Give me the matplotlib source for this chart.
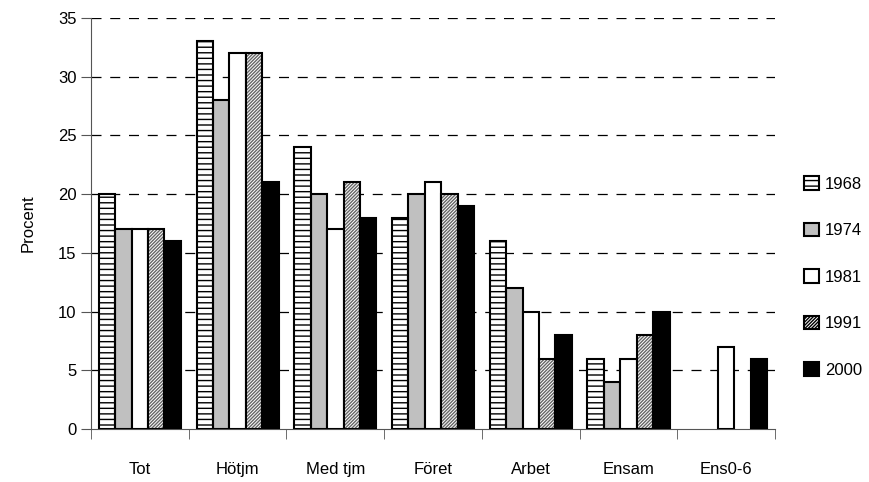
import matplotlib
matplotlib.use("Agg")
import matplotlib.pyplot as plt
import numpy as np

plt.rcParams['font.family'] = ['Liberation Sans', 'DejaVu Sans']
plt.rcParams['hatch.linewidth'] = 1.0

kategorier = ["Tot", "Hötjm", "Med tjm", "Föret", "Arbet", "Ensam", "Ens0-6"]
ar = ["1968", "1974", "1981", "1991", "2000"]
v1968 = [20, 33, 24, 18, 16, 6, np.nan]
v1974 = [17, 28, 20, 20, 12, 4, np.nan]
v1981 = [17, 32, 17, 21, 10, 6, 7]
v1991 = [17, 32, 21, 20, 6, 8, np.nan]
v2000 = [16, 21, 18, 19, 8, 10, 6]
serier = [v1968, v1974, v1981, v1991, v2000]

farger = ["white", "#c0c0c0", "white", "white", "black"]
monster = ["---", None, None, "//////////", None]
monsterfarg = ["black", None, None, "#666666", None]

fig = plt.figure(figsize=(8.69, 4.82), dpi=100)
ax = fig.add_axes([0.1047, 0.110, 0.7873, 0.8527])

x = np.arange(len(kategorier))
bredd = 0.168
for i, (s, namn) in enumerate(zip(serier, ar)):
    pos = x + (i - 2) * bredd
    if monster[i]:
        # mönster i egen färg, svart kant ovanpå
        ax.bar(pos, s, width=bredd, color=farger[i], edgecolor=monsterfarg[i],
               linewidth=0, hatch=monster[i], zorder=3)
        ax.bar(pos, s, width=bredd, fill=False, edgecolor="black",
               linewidth=1.5, zorder=4)
        ax.bar([np.nan], [np.nan], color=farger[i], edgecolor="black",
               linewidth=1.5, hatch=monster[i], label=namn)
    else:
        ax.bar(pos, s, width=bredd, color=farger[i], edgecolor="black",
               linewidth=1.5, label=namn, zorder=3)

ax.set_xlim(-0.5, len(kategorier) - 0.5)
ax.set_ylim(0, 35)
ax.set_yticks(range(0, 36, 5))
ax.set_xticks(x)
ax.set_xticklabels(kategorier, fontsize=12)
ax.set_xticks(np.arange(-0.5, len(kategorier)), minor=True)
ax.tick_params(axis="x", which="major", length=0, pad=24)
ax.tick_params(axis="x", which="minor", length=7, color="#555555")
ax.tick_params(axis="y", length=7, color="#555555", labelsize=12)
ax.set_ylabel("Procent", fontsize=12, labelpad=16)

for yv in range(5, 36, 5):
    ax.axhline(yv, color="black", linestyle=(0, (8, 7)), linewidth=0.9, zorder=1)

for side in ["top", "right"]:
    ax.spines[side].set_visible(False)
ax.spines["left"].set_color("#555555")
ax.spines["bottom"].set_color("#555555")

ax.legend(loc="center left", bbox_to_anchor=(1.02, 0.37), frameon=False,
          fontsize=12, handlelength=0.9, handleheight=0.9, labelspacing=1.85,
          handletextpad=0.35)

fig.savefig("out.png", dpi=100)
